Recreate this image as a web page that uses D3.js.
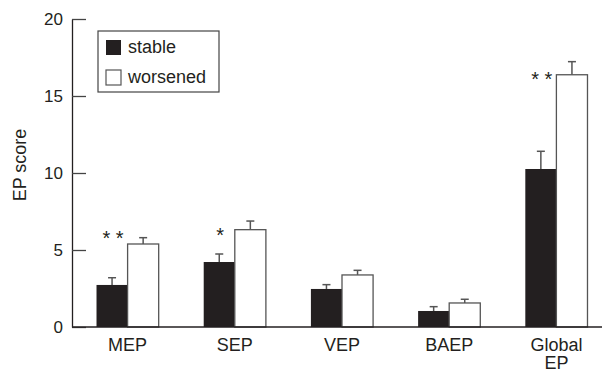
<!DOCTYPE html>
<html lang="en">
<head>
  <meta charset="UTF-8">
  <title>EP score by group</title>
  <script src="https://d3js.org/d3.v7.min.js"></script>
  <style>
    body {
      margin: 0;
      background: #fff;
      overflow: hidden;
    }
    svg text {
      font-family: "Liberation Sans", Arial, sans-serif;
      fill: #231f20;
    }
  </style>
</head>
<body>
  <div id="chart"></div>

  <script>
    // Data
    const categories = ['MEP', 'SEP', 'VEP', 'BAEP', 'Global EP'];
    const tickLabels = [['MEP'], ['SEP'], ['VEP'], ['BAEP'], ['Global', 'EP']];
    const series = ['stable', 'worsened'];
    const stable = [2.73, 4.22, 2.47, 1.04, 10.26];
    const stableErr = [0.47, 0.52, 0.28, 0.28, 1.15];
    const worsened = [5.39, 6.32, 3.38, 1.56, 16.38];
    const worsenedErr = [0.41, 0.56, 0.30, 0.24, 0.85];
    const sigMarks = ['* *', '*', '', '', '* *'];
    const sigLevel = [6.1, 6.3, 0, 0, 16.4];
    const yTicks = [0, 5, 10, 15, 20];

    const width = 602;
    const height = 374;
    const margin = { top: 19, right: 0, bottom: 47, left: 72 };
    const innerWidth = width - margin.left - margin.right;
    const innerHeight = height - margin.top - margin.bottom;

    const ink = '#231f20';
    const colors = { stable: ink, worsened: '#fff' };

    const svg = d3.select('#chart')
      .append('svg')
      .attr('width', width)
      .attr('height', height)
      .style('display', 'block')
      .append('g')
      .attr('transform', `translate(${margin.left}, ${margin.top})`);

    // Scales
    const x0 = d3.scaleBand()
      .domain(categories)
      .range([2, 538])
      .paddingInner(0.42)
      .paddingOuter(0.21);

    const x1 = d3.scaleBand()
      .domain(series)
      .range([0, x0.bandwidth()]);

    const y = d3.scaleLinear()
      .domain([0, 20])
      .range([innerHeight, 0]);

    const rows = categories.map((c, i) => ({
      cat: c,
      label: tickLabels[i],
      stable: stable[i], stableErr: stableErr[i],
      worsened: worsened[i], worsenedErr: worsenedErr[i],
      sig: sigMarks[i], sigLevel: sigLevel[i]
    }));

    const groups = svg.selectAll('.group')
      .data(rows)
      .join('g')
      .attr('class', 'group')
      .attr('transform', d => `translate(${x0(d.cat)}, 0)`);

    // Error bars (upper only), drawn behind bars
    series.forEach(s => {
      const cx = x1(s) + x1.bandwidth() / 2;
      groups.append('line')
        .attr('x1', cx)
        .attr('x2', cx)
        .attr('y1', d => y(d[s]))
        .attr('y2', d => y(d[s] + d[s + 'Err']))
        .attr('stroke', '#555')
        .attr('stroke-width', 1.5);
      groups.append('line')
        .attr('x1', cx - 4)
        .attr('x2', cx + 4)
        .attr('y1', d => y(d[s] + d[s + 'Err']))
        .attr('y2', d => y(d[s] + d[s + 'Err']))
        .attr('stroke', '#555')
        .attr('stroke-width', 1.5);
    });

    // Bars
    series.forEach(s => {
      groups.append('rect')
        .attr('x', x1(s))
        .attr('y', d => y(d[s]))
        .attr('width', x1.bandwidth())
        .attr('height', d => innerHeight - y(d[s]))
        .attr('fill', colors[s])
        .attr('stroke', s === 'worsened' ? '#555' : 'none')
        .attr('stroke-width', 1.3);
    });

    // Significance marks
    groups.filter(d => d.sig)
      .append('text')
      .attr('x', x1('stable') + x1.bandwidth() / 2 + 1)
      .attr('y', d => y(d.sigLevel))
      .attr('dy', '0.6em')
      .attr('text-anchor', 'middle')
      .style('font-size', '20px')
      .text(d => d.sig);

    // Y axis (ticks point inward)
    const yAxis = svg.append('g')
      .call(d3.axisLeft(y).tickValues(yTicks).tickSizeInner(-14).tickSizeOuter(0).tickPadding(9));
    yAxis.select('.domain').attr('stroke', ink).attr('stroke-width', 1.3);
    yAxis.selectAll('.tick line').attr('stroke', '#444').attr('stroke-width', 1.3);
    yAxis.selectAll('.tick text')
      .style('font-size', '17px')
      .attr('fill', ink);

    // X axis line
    svg.append('line')
      .attr('x1', 0)
      .attr('x2', innerWidth)
      .attr('y1', innerHeight)
      .attr('y2', innerHeight)
      .attr('stroke', ink)
      .attr('stroke-width', 1.3);

    // Category labels, one text per line
    rows.forEach(d => {
      d.label.forEach((line, j) => {
        svg.append('text')
          .attr('x', x0(d.cat) + x0.bandwidth() / 2)
          .attr('y', innerHeight + 24 + j * 18)
          .attr('text-anchor', 'middle')
          .style('font-size', '18px')
          .text(line);
      });
    });

    // Y axis label
    svg.append('text')
      .attr('text-anchor', 'middle')
      .attr('transform', `translate(${26 - margin.left}, ${y(10) - 8}) rotate(-90)`)
      .style('font-size', '18px')
      .text('EP score');

    // Legend
    const legend = svg.append('g')
      .attr('transform', `translate(${98 - margin.left}, ${31 - margin.top})`);
    legend.append('rect')
      .attr('width', 121)
      .attr('height', 61)
      .attr('fill', '#fff')
      .attr('stroke', '#444')
      .attr('stroke-width', 1.2);
    series.forEach((s, i) => {
      const row = legend.append('g')
        .attr('transform', `translate(8, ${9 + i * 30})`);
      row.append('rect')
        .attr('width', 15)
        .attr('height', 15)
        .attr('fill', colors[s])
        .attr('stroke', s === 'worsened' ? '#555' : 'none')
        .attr('stroke-width', 1.2);
      row.append('text')
        .attr('x', 22)
        .attr('y', 13)
        .style('font-size', '18px')
        .text(s);
    });
  </script>
</body>
</html>
